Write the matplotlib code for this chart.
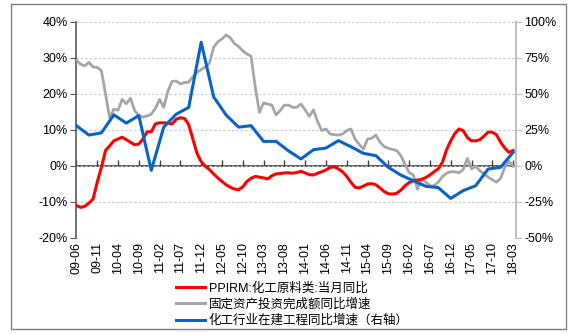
import matplotlib
matplotlib.use('Agg')
import matplotlib.pyplot as plt
from matplotlib.patches import Rectangle
from matplotlib.lines import Line2D
from matplotlib.ticker import FuncFormatter
import numpy as np

plt.rcParams['font.family'] = ['Liberation Sans', 'Noto Sans CJK SC', 'DejaVu Sans']
plt.rcParams['font.size'] = 9

# month index 0 = 09-06 ... 105 = 18-03
tick_labels = ['09-06', '09-11', '10-04', '10-09', '11-02', '11-07', '11-12', '12-05',
               '12-10', '13-03', '13-08', '14-01', '14-06', '14-11', '15-04', '15-09',
               '16-02', '16-07', '16-12', '17-05', '17-10', '18-03']

ppirm = [-11.0, -11.5, -11.2, -10.3, -9.2, -4.5, -0.4, 4.3, 5.6, 7.0,
         7.5, 8.0, 7.3, 6.6, 5.9, 6.1, 7.5, 9.5, 9.5, 11.7,
         12.0, 12.0, 11.9, 11.7, 13.0, 13.4, 13.2, 11.5, 7.5, 3.5,
         1.2, -0.1, -1.0, -2.2, -3.3, -4.3, -5.2, -5.9, -6.4, -6.6,
         -5.8, -4.3, -3.4, -2.9, -3.1, -3.3, -3.6, -2.7, -2.2, -2.1,
         -1.9, -1.9, -2.0, -1.8, -1.5, -1.9, -2.4, -2.5, -2.0, -1.6,
         -1.1, -0.4, -0.2, -0.8, -1.6, -2.9, -4.5, -5.9, -6.1, -5.6,
         -5.0, -4.9, -5.2, -6.1, -7.1, -7.7, -7.8, -7.6, -6.7, -5.5,
         -4.6, -4.1, -3.9, -3.7, -3.2, -2.5, -1.6, -0.8, 1.0, 4.5,
         7.0, 9.0, 10.3, 9.8, 7.9, 7.0, 7.0, 7.3, 8.3, 9.4,
         9.4, 8.7, 6.6, 5.0, 3.8, 4.3]

fai = [29.3, 28.3, 27.8, 28.8, 27.5, 27.4, 26.5, 20.0, 13.3, 15.8,
       15.5, 18.5, 17.3, 18.8, 15.4, 14.0, 13.6, 13.9, 14.4, 16.0,
       18.5, 16.3, 20.8, 23.5, 23.6, 22.8, 23.2, 23.3, 24.8, 26.0,
       26.8, 27.5, 28.6, 33.0, 34.5, 35.3, 36.4, 35.6, 34.0, 33.2,
       32.0, 31.1, 30.5, 22.0, 14.9, 17.5, 17.2, 16.9, 14.2, 15.4,
       16.9, 16.9, 16.3, 16.3, 17.2, 15.6, 13.8, 15.6, 12.3, 9.8,
       10.3, 8.9, 8.7, 8.6, 8.9, 9.8, 10.3, 7.5, 6.0, 4.7,
       7.5, 7.7, 8.6, 6.6, 5.4, 4.9, 4.6, 4.3, 2.9, 0.5,
       -1.8, -2.5, -6.4, -3.6, -4.5, -5.5, -5.5, -4.5, -3.0, -2.0,
       -1.6, -1.6, -1.9, -1.0, 2.1, -0.8, -0.1, -1.3, -2.2, -3.1,
       -3.8, -4.5, -3.4, -0.4, 1.3, -0.1]

# quarterly values (every 3rd month), right axis
cip_month = list(range(0, 106, 3))
cip = [28.0, 21.5, 23.0, 35.5, 29.8, 35.0, -3.0, 27.0, 36.0, 40.7,
       86.0, 48.0, 35.4, 27.0, 28.0, 17.1, 17.1, 10.5, 4.9, 11.3,
       12.5, 17.6, 13.4, 8.8, 7.2, -0.9, -6.3, -10.2, -14.1, -15.0,
       -22.5, -17.1, -13.7, -2.1, -0.9, 9.5]

labels = ['PPIRM:化工原料类:当月同比', '固定资产投资完成额同比增速', '化工行业在建工程同比增速（右轴）']
colors = ['#FF0000', '#A6A6A6', '#0A64C8']

months = np.arange(len(ppirm))
tick_pos = np.arange(0, len(ppirm), 5)

fig = plt.figure(figsize=(5.74, 3.34), dpi=100)
ax = fig.add_axes([76 / 574, 1 - 238 / 334, 440 / 574, 216 / 334])
ax2 = ax.twinx()

ax.plot(months, fai, color=colors[1], lw=2.0, zorder=3)
ax.plot(months, ppirm, color=colors[0], lw=2.2, zorder=4)
ax2.plot(cip_month, cip, color=colors[2], lw=2.2, zorder=5)

ax.set_xlim(-0.1, 105.7)
ax.set_ylim(-20, 40)
ax2.set_ylim(-50, 100)
ax.set_yticks([-20, -10, 0, 10, 20, 30, 40])
ax2.set_yticks([-50, -25, 0, 25, 50, 75, 100])
pct = FuncFormatter(lambda v, p: f'{v:.0f}%')
ax.yaxis.set_major_formatter(pct)
ax2.yaxis.set_major_formatter(pct)

ax.yaxis.grid(True, linestyle=(0, (2, 2)), color='#C8C8C8', lw=0.8)
ax.set_axisbelow(True)

ax.set_xticks(tick_pos)
ax.set_xticklabels(tick_labels, rotation=90)
ax.tick_params(axis='x', length=0, pad=3, labelsize=9)
ax.tick_params(axis='y', length=4, color='#595959', labelsize=9, pad=2)
ax2.tick_params(axis='y', length=4, color='#BFBFBF', labelsize=9, pad=2)

for s in ['top', 'bottom', 'right']:
    ax.spines[s].set_visible(False)
for s in ['top', 'bottom', 'left']:
    ax2.spines[s].set_visible(False)
ax.spines['left'].set_color('#595959')
ax.spines['left'].set_linewidth(1.2)
ax2.spines['right'].set_color('#BFBFBF')
ax2.spines['right'].set_linewidth(1.5)

# zero line with ticks
sec = ax.secondary_xaxis(1 / 3)
sec.set_xticks(tick_pos)
sec.tick_params(direction='in', length=4, color='#404040', labelbottom=False, width=1)
sec.spines['bottom'].set_color('#404040')
sec.spines['bottom'].set_linewidth(1.2)

handles = [Line2D([], [], color=colors[0], lw=2.2),
           Line2D([], [], color=colors[1], lw=2.2),
           Line2D([], [], color=colors[2], lw=2.2)]
fig.legend(handles, labels, loc='upper left', bbox_to_anchor=(176 / 574, 1 - 282 / 334),
           frameon=False, borderpad=0, borderaxespad=0, handlelength=2.3,
           handletextpad=0.3, labelspacing=0.3, fontsize=9)

fig.patches.append(Rectangle((11 / 574, 1 - 329 / 334), 555 / 574, 325 / 334,
                             transform=fig.transFigure, fill=False,
                             edgecolor='#808080', lw=1))

fig.savefig('out.png', dpi=100)
